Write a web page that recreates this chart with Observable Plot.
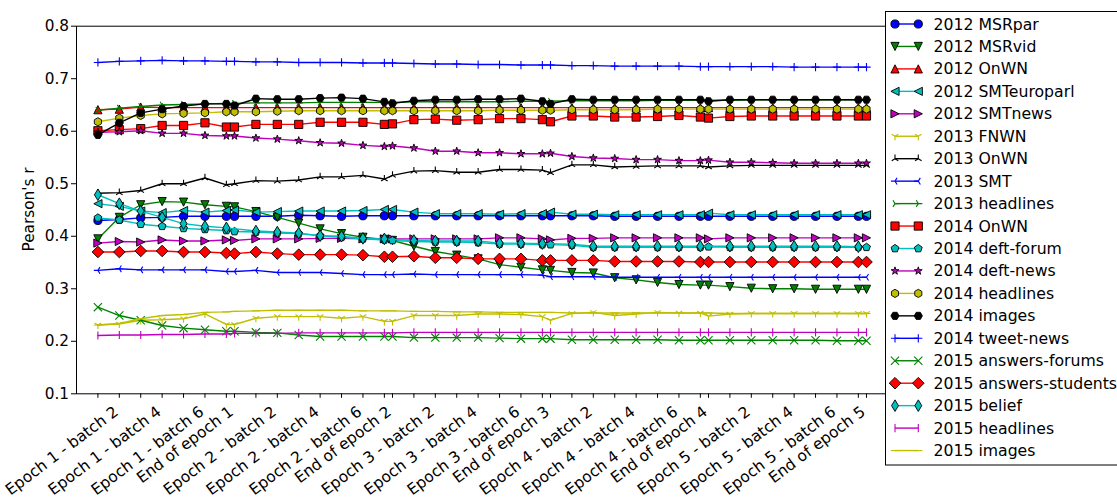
<!DOCTYPE html>
<html><head><meta charset="utf-8">
<script src="https://cdn.jsdelivr.net/npm/d3@7"></script>
<script src="https://cdn.jsdelivr.net/npm/@observablehq/plot@0.6"></script>
<style>html,body{margin:0;padding:0;background:#fff;overflow:hidden}svg{display:block}</style>
</head><body><div id="chart"></div>
<script>
// x positions of the evaluation checkpoints (in batches; an epoch is ~7.38 batches)
const checkpoints = [1,2,3,4,5,6,7,7.38, 8.38,9.38,10.38,11.38,12.38,13.38,14.38,14.76,
  15.76,16.76,17.76,18.76,19.76,20.76,21.76,22.14, 23.14,24.14,25.14,26.14,27.14,28.14,29.14,29.52,
  30.52,31.52,32.52,33.52,34.52,35.52,36.52,36.9];
const xTickLabels = ["","Epoch 1 - batch 2","","Epoch 1 - batch 4","","Epoch 1 - batch 6","","End of epoch 1",
  "","Epoch 2 - batch 2","","Epoch 2 - batch 4","","Epoch 2 - batch 6","","End of epoch 2",
  "","Epoch 3 - batch 2","","Epoch 3 - batch 4","","Epoch 3 - batch 6","","End of epoch 3",
  "","Epoch 4 - batch 2","","Epoch 4 - batch 4","","Epoch 4 - batch 6","","End of epoch 4",
  "","Epoch 5 - batch 2","","Epoch 5 - batch 4","","Epoch 5 - batch 6","","End of epoch 5"];
const yTicks = [0.1,0.2,0.3,0.4,0.5,0.6,0.7,0.8];
const seriesNames = ["2012 MSRpar","2012 MSRvid","2012 OnWN","2012 SMTeuroparl","2012 SMTnews",
  "2013 FNWN","2013 OnWN","2013 SMT","2013 headlines","2014 OnWN","2014 deft-forum","2014 deft-news",
  "2014 headlines","2014 images","2014 tweet-news","2015 answers-forums","2015 answers-students",
  "2015 belief","2015 headlines","2015 images"];
const seriesColors = ["#0000ff","#008000","#ff0000","#00bfbf","#bf00bf","#bfbf00","#000000",
  "#0000ff","#008000","#ff0000","#00bfbf","#bf00bf","#bfbf00","#000000",
  "#0000ff","#008000","#ff0000","#00bfbf","#bf00bf","#bfbf00"];
const seriesMarkers = ["o","v","^","<",">","1","2","3","4","s","p","*","h","H","+","x","D","d","|","_"];

const s2012MSRpar = [0.430,0.432,0.435,0.436,0.438,0.438,0.438,0.438, 0.438,0.438,0.440,0.439,0.438,0.439,0.439,0.439, 0.439,0.439,0.439,0.439,0.439,0.439,0.439,0.439, 0.439,0.439,0.438,0.438,0.438,0.438,0.438,0.438, 0.438,0.438,0.438,0.438,0.438,0.438,0.438,0.438];
const s2012MSRvid = [0.395,0.436,0.460,0.466,0.465,0.460,0.457,0.456, 0.447,0.436,0.425,0.414,0.405,0.398,0.394,0.392, 0.381,0.371,0.364,0.357,0.346,0.341,0.336,0.335, 0.331,0.330,0.321,0.317,0.312,0.308,0.307,0.307, 0.304,0.301,0.300,0.300,0.299,0.299,0.299,0.299];
const s2012OnWN = [0.641,0.642,0.646,0.645,0.645,0.645,0.645,0.645, 0.645,0.645,0.645,0.645,0.645,0.645,0.645,0.645, 0.645,0.645,0.645,0.645,0.645,0.645,0.645,0.645, 0.645,0.645,0.645,0.645,0.645,0.645,0.645,0.645, 0.645,0.645,0.645,0.645,0.645,0.645,0.645,0.645];
const s2012SMTeuroparl = [0.462,0.457,0.448,0.445,0.449,0.446,0.449,0.450, 0.446,0.447,0.448,0.448,0.448,0.449,0.451,0.451, 0.446,0.443,0.443,0.443,0.442,0.443,0.443,0.446, 0.442,0.442,0.441,0.441,0.441,0.441,0.441,0.444, 0.441,0.441,0.441,0.441,0.441,0.441,0.441,0.441];
const s2012SMTnews = [0.387,0.390,0.389,0.393,0.391,0.391,0.393,0.392, 0.395,0.395,0.395,0.396,0.396,0.395,0.395,0.395, 0.395,0.395,0.395,0.395,0.397,0.397,0.395,0.393, 0.396,0.396,0.397,0.397,0.397,0.397,0.397,0.395, 0.397,0.397,0.397,0.397,0.397,0.397,0.397,0.397];
const s2013FNWN = [0.231,0.233,0.240,0.241,0.243,0.252,0.232,0.232, 0.244,0.247,0.247,0.247,0.244,0.247,0.238,0.238, 0.249,0.249,0.249,0.252,0.252,0.251,0.247,0.240, 0.253,0.255,0.249,0.252,0.255,0.254,0.254,0.248, 0.252,0.253,0.253,0.253,0.253,0.253,0.253,0.253];
const s2013OnWN = [0.482,0.483,0.487,0.500,0.500,0.511,0.498,0.500, 0.506,0.505,0.507,0.513,0.513,0.516,0.509,0.516, 0.524,0.525,0.522,0.522,0.527,0.527,0.526,0.521, 0.536,0.536,0.532,0.533,0.534,0.534,0.534,0.532, 0.534,0.535,0.535,0.535,0.535,0.535,0.535,0.535];
const s2013SMT = [0.335,0.338,0.336,0.336,0.336,0.336,0.333,0.333, 0.335,0.331,0.331,0.331,0.329,0.327,0.327,0.327, 0.328,0.327,0.327,0.327,0.327,0.327,0.326,0.323, 0.323,0.323,0.322,0.322,0.322,0.322,0.322,0.322, 0.322,0.322,0.322,0.322,0.322,0.322,0.322,0.322];
const s2013headlines = [0.640,0.644,0.647,0.650,0.651,0.652,0.653,0.653, 0.654,0.654,0.654,0.655,0.655,0.655,0.655,0.655, 0.656,0.656,0.656,0.656,0.656,0.657,0.657,0.657, 0.658,0.658,0.658,0.658,0.659,0.659,0.659,0.659, 0.659,0.660,0.660,0.660,0.660,0.660,0.660,0.660];
const s2014OnWN = [0.601,0.603,0.605,0.611,0.611,0.616,0.608,0.608, 0.613,0.613,0.613,0.617,0.617,0.617,0.613,0.614, 0.622,0.623,0.621,0.622,0.624,0.624,0.622,0.618, 0.629,0.629,0.627,0.627,0.628,0.630,0.627,0.625, 0.628,0.629,0.629,0.629,0.629,0.629,0.629,0.629];
const s2014deftForum = [0.435,0.431,0.423,0.419,0.415,0.413,0.411,0.409, 0.408,0.406,0.405,0.401,0.398,0.395,0.393,0.392, 0.390,0.389,0.389,0.388,0.385,0.385,0.384,0.384, 0.383,0.379,0.379,0.379,0.379,0.379,0.379,0.380, 0.379,0.379,0.379,0.379,0.379,0.379,0.379,0.379];
const s2014deftNews = [0.598,0.599,0.601,0.596,0.596,0.592,0.591,0.591, 0.587,0.585,0.582,0.578,0.577,0.573,0.571,0.572, 0.568,0.562,0.562,0.559,0.559,0.557,0.557,0.558, 0.552,0.549,0.548,0.546,0.546,0.544,0.544,0.545, 0.541,0.541,0.540,0.539,0.539,0.539,0.539,0.539];
const s2014headlines = [0.618,0.625,0.630,0.633,0.634,0.635,0.637,0.637, 0.637,0.638,0.639,0.639,0.639,0.639,0.639,0.639, 0.639,0.639,0.639,0.639,0.640,0.640,0.640,0.640, 0.641,0.641,0.641,0.641,0.642,0.642,0.642,0.642, 0.642,0.642,0.642,0.642,0.642,0.642,0.642,0.642];
const s2014images = [0.593,0.616,0.635,0.642,0.648,0.652,0.652,0.649, 0.662,0.661,0.661,0.663,0.664,0.662,0.656,0.653, 0.658,0.660,0.660,0.661,0.661,0.662,0.657,0.652, 0.661,0.660,0.660,0.660,0.660,0.660,0.660,0.657, 0.660,0.660,0.660,0.660,0.660,0.660,0.660,0.660];
const s2014tweetNews = [0.731,0.733,0.734,0.735,0.734,0.734,0.733,0.733, 0.732,0.732,0.731,0.731,0.731,0.730,0.730,0.730, 0.729,0.728,0.728,0.727,0.727,0.726,0.726,0.726, 0.725,0.725,0.724,0.724,0.724,0.724,0.723,0.723, 0.723,0.723,0.723,0.722,0.722,0.722,0.722,0.722];
const s2015answersForums = [0.265,0.249,0.240,0.230,0.225,0.222,0.219,0.219, 0.217,0.216,0.212,0.209,0.209,0.209,0.209,0.209, 0.207,0.207,0.207,0.207,0.206,0.205,0.205,0.205, 0.203,0.203,0.203,0.203,0.203,0.202,0.202,0.202, 0.202,0.202,0.202,0.202,0.202,0.201,0.201,0.201];
const s2015answersStudents = [0.370,0.370,0.372,0.372,0.370,0.370,0.368,0.367, 0.370,0.367,0.365,0.365,0.365,0.364,0.361,0.361, 0.362,0.359,0.359,0.357,0.357,0.357,0.354,0.354, 0.354,0.354,0.352,0.352,0.352,0.352,0.351,0.351, 0.351,0.351,0.351,0.351,0.351,0.351,0.351,0.351];
const s2015belief = [0.479,0.462,0.448,0.436,0.424,0.419,0.416,null, 0.410,0.408,0.406,0.401,0.400,0.396,0.395,null, 0.392,0.391,0.391,0.391,0.387,0.387,0.386,null, 0.385,0.381,0.381,0.381,0.381,0.381,0.381,null, 0.381,0.381,0.381,0.381,0.381,0.381,0.380,null];
const s2015headlines = [0.211,0.212,0.212,0.213,0.213,0.214,0.214,0.215, 0.215,0.215,0.216,0.216,0.216,0.216,0.216,0.216, 0.217,0.217,0.217,0.217,0.217,0.217,0.217,0.217, 0.217,0.217,0.217,0.217,0.217,0.217,0.217,0.217, 0.217,0.217,0.217,0.217,0.217,0.217,0.217,0.217];
const s2015images = [0.231,0.234,0.243,0.249,0.251,0.255,0.256,0.257, 0.258,0.259,0.259,0.259,0.259,0.258,0.258,0.258, 0.257,0.257,0.256,0.256,0.255,0.255,0.255,0.255, 0.254,0.254,0.254,0.254,0.254,0.254,0.254,0.254, 0.253,0.253,0.253,0.253,0.253,0.253,0.253,0.253];

const seriesValues = [s2012MSRpar,s2012MSRvid,s2012OnWN,s2012SMTeuroparl,s2012SMTnews,s2013FNWN,s2013OnWN,
  s2013SMT,s2013headlines,s2014OnWN,s2014deftForum,s2014deftNews,s2014headlines,s2014images,s2014tweetNews,
  s2015answersForums,s2015answersStudents,s2015belief,s2015headlines,s2015images];

// ---- matplotlib-like marker shapes (r = half marker size) ----
function poly(c, pts){ c.moveTo(pts[0][0], pts[0][1]); for (let i = 1; i < pts.length; i++) c.lineTo(pts[i][0], pts[i][1]); c.closePath(); }
function segs(c, list){ for (const [a, b] of list){ c.moveTo(a[0], a[1]); c.lineTo(b[0], b[1]); } }
function regular(n, r, start){ const p = []; for (let k = 0; k < n; k++){ const a = start + 2*Math.PI*k/n; p.push([r*Math.cos(a), r*Math.sin(a)]); } return p; }
const markerShapes = {
  "o": {filled: true, draw(c, r){ c.moveTo(r, 0); c.arc(0, 0, r, 0, 2*Math.PI); c.closePath(); }},
  "^": {filled: true, draw(c, r){ poly(c, [[0,-r],[-r,r],[r,r]]); }},
  "v": {filled: true, draw(c, r){ poly(c, [[0,r],[-r,-r],[r,-r]]); }},
  "<": {filled: true, draw(c, r){ poly(c, [[-r,0],[r,-r],[r,r]]); }},
  ">": {filled: true, draw(c, r){ poly(c, [[r,0],[-r,-r],[-r,r]]); }},
  "s": {filled: true, draw(c, r){ poly(c, [[-r,-r],[r,-r],[r,r],[-r,r]]); }},
  "p": {filled: true, draw(c, r){ poly(c, regular(5, r, -Math.PI/2)); }},
  "h": {filled: true, draw(c, r){ poly(c, regular(6, r, -Math.PI/2)); }},
  "H": {filled: true, draw(c, r){ poly(c, regular(6, r, 0)); }},
  "*": {filled: true, draw(c, r){ const p = []; for (let k = 0; k < 10; k++){ const a = -Math.PI/2 + Math.PI*k/5, rr = k % 2 ? r*0.381966 : r; p.push([rr*Math.cos(a), rr*Math.sin(a)]); } poly(c, p); }},
  "D": {filled: true, draw(c, r){ const d = r*1.414; poly(c, [[0,-d],[d,0],[0,d],[-d,0]]); }},
  "d": {filled: true, draw(c, r){ const d = r*1.414; poly(c, [[0,-d],[0.6*d,0],[0,d],[-0.6*d,0]]); }},
  "1": {filled: false, draw(c, r){ segs(c, [[[0,0],[0,r]],[[0,0],[0.8*r,-0.5*r]],[[0,0],[-0.8*r,-0.5*r]]]); }},
  "2": {filled: false, draw(c, r){ segs(c, [[[0,0],[0,-r]],[[0,0],[0.8*r,0.5*r]],[[0,0],[-0.8*r,0.5*r]]]); }},
  "3": {filled: false, draw(c, r){ segs(c, [[[0,0],[-r,0]],[[0,0],[0.5*r,0.8*r]],[[0,0],[0.5*r,-0.8*r]]]); }},
  "4": {filled: false, draw(c, r){ segs(c, [[[0,0],[r,0]],[[0,0],[-0.5*r,0.8*r]],[[0,0],[-0.5*r,-0.8*r]]]); }},
  "+": {filled: false, draw(c, r){ segs(c, [[[-r,0],[r,0]],[[0,-r],[0,r]]]); }},
  "x": {filled: false, draw(c, r){ segs(c, [[[-r,-r],[r,r]],[[-r,r],[r,-r]]]); }},
  "|": {filled: false, draw(c, r){ segs(c, [[[0,-r],[0,r]]]); }},
  "_": {filled: false, draw(c, r){ segs(c, [[[-r,0],[r,0]]]); }}
};
const toSymbol = shape => ({draw(ctx, size){ shape.draw(ctx, Math.sqrt(size/Math.PI)); }});

const MS = 8.2;            // marker size in px
const labelByX = new Map(checkpoints.map((x, i) => [x, xTickLabels[i]]));

const marks = [];
seriesValues.forEach((vals, s) => {
  const data = checkpoints.map((x, i) => ({x, y: vals[i]})).filter(d => d.y != null);
  const color = seriesColors[s];
  const shape = markerShapes[seriesMarkers[s]];
  marks.push(Plot.line(data, {x: "x", y: "y", stroke: color, strokeWidth: 1.4}));
  marks.push(Plot.dot(data, {x: "x", y: "y", r: MS/2, symbol: toSymbol(shape),
    fill: shape.filled ? color : "none", stroke: shape.filled ? "black" : color,
    strokeWidth: shape.filled ? 0.9 : 1.1}));
});

const chart = Plot.plot({
  width: 1117, height: 497,
  marginLeft: 76, marginRight: 229.6, marginTop: 25.7, marginBottom: 103.7,
  style: {fontFamily: "DejaVu Sans", fontSize: "15.3px", background: "white", color: "black", overflow: "visible"},
  x: {type: "linear", domain: [0, 37.9]},
  y: {domain: [0.1, 0.8]},
  marks: [
    ...marks,
    Plot.frame({stroke: "black", strokeWidth: 1}),
    Plot.axisY({ticks: yTicks, tickFormat: d3.format(".1f"), tickSize: 5, tickPadding: 2.5, label: null, fontSize: 15.3}),
    Plot.axisX({ticks: checkpoints, tickFormat: d => labelByX.get(d), tickSize: 4.5, tickRotate: -37,
      textAnchor: "end", lineAnchor: "bottom", tickPadding: 15.5, label: null, fontSize: 15.5})
  ]
});
document.getElementById("chart").appendChild(chart);

const svg = d3.select(chart);
svg.append("text").attr("transform", "translate(34,209.5) rotate(-90)").attr("text-anchor", "middle")
  .attr("font-size", 15.3).attr("fill", "black").text("Pearson's r");

const lg = svg.append("g").attr("font-size", 15.7).attr("font-family", "DejaVu Sans").attr("text-anchor", "start");
lg.append("rect").attr("x", 885.5).attr("y", 11.5).attr("width", 300).attr("height", 453.5)
  .attr("fill", "white").attr("stroke", "black").attr("stroke-width", 1);
seriesNames.forEach((name, s) => {
  const yk = 24 + 22.45*s;
  const color = seriesColors[s];
  const shape = markerShapes[seriesMarkers[s]];
  lg.append("line").attr("x1", 895).attr("x2", 918.3).attr("y1", yk).attr("y2", yk)
    .attr("stroke", color).attr("stroke-width", 1.4);
  for (const xm of [895, 918.3]) {
    const p = d3.path(); shape.draw(p, MS/2);
    lg.append("path").attr("d", p.toString()).attr("transform", `translate(${xm},${yk})`)
      .attr("fill", shape.filled ? color : "none").attr("stroke", shape.filled ? "black" : color)
      .attr("stroke-width", shape.filled ? 0.9 : 1.1);
  }
  lg.append("text").attr("x", 933.5).attr("y", yk + 5.5).attr("fill", "black").attr("text-anchor", "start").text(name);
});
</script>
</body></html>
